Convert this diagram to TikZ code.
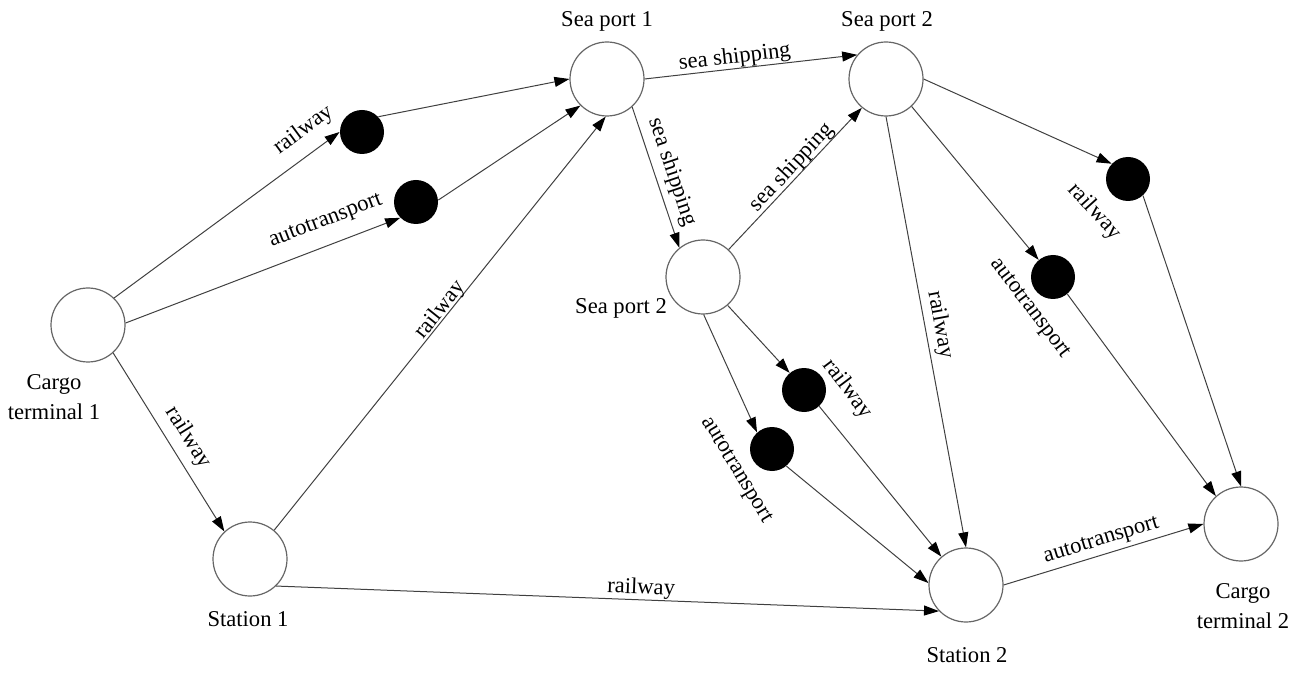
\documentclass[tikz,border=0pt]{standalone}
\usepackage{fontspec}
\setmainfont{Liberation Serif}
\usetikzlibrary{arrows.meta}

\begin{document}
\begin{tikzpicture}[
  x=0.5pt, y=-0.5pt,
  port/.style={circle, draw=black!60, fill=white, line width=0.6pt,
               minimum size=37pt, inner sep=0pt},
  hub/.style={circle, fill=black, minimum size=22pt, inner sep=0pt},
  arr/.style={-{Triangle[length=7.5pt, width=5pt, color=black]},
              draw=black!75, line width=0.5pt},
  lbl/.style={font=\fontsize{11.3}{15}\selectfont, sloped, anchor=center,
              inner sep=0pt, yshift=#1},
  lbl/.default=6.5pt,
  tag/.style={font=\fontsize{11.3}{15}\selectfont, inner sep=0pt},
  plabel/.style={font=\fontsize{11.3}{15}\selectfont, align=center, inner sep=0pt}
]
  \useasboundingbox (0,0) rectangle (1305,673);

  % Nodes
  \node[port] (ct1)  at (88,325)   {};
  \node[port] (st1)  at (250,559)  {};
  \node[port] (sp1)  at (607,79)   {};
  \node[port] (sp2a) at (886,79)   {};
  \node[port] (sp2b) at (703,277)  {};
  \node[port] (st2)  at (966,585)  {};
  \node[port] (ct2)  at (1241,524) {};

  % Transfer points
  \node[hub] (r1) at (362,132)  {};
  \node[hub] (a1) at (416,202)  {};
  \node[hub] (r2) at (1128,179) {};
  \node[hub] (a2) at (1053,277) {};
  \node[hub] (r3) at (804,390)  {};
  \node[hub] (a3) at (772,449)  {};

  % Names
  \node[plabel, anchor=base] (sp1name)  at (607,27)  {Sea port 1};
  \node[plabel, anchor=base] (sp2aname) at (887,27)  {Sea port 2};
  \node[plabel, anchor=base] (sp2bname) at (621,314) {Sea port 2};
  \node[plabel]              (ct1name)  at (54,397)  {Cargo\\terminal 1};
  \node[plabel, anchor=base] (st1name)  at (248,626) {Station 1};
  \node[plabel, anchor=base] (st2name)  at (967,662) {Station 2};
  \node[plabel]              (ct2name)  at (1243,606) {Cargo\\terminal 2};

  % Arrows
  \draw[arr] (ct1.46)   -- node[lbl=11.5pt, pos=0.9]  {railway} (r1.180);
  \draw[arr] (ct1.3)    -- node[lbl=11.5pt, pos=0.76] {autotransport} (a1.-135);
  \draw[arr] (r1.43)    -- (sp1.180);
  \draw[arr] (a1.5)     -- (sp1.-135);
  \draw[arr] (ct1.-48)  -- node[lbl=9.5pt, pos=0.53]  {railway} (st1.133);
  \draw[arr] (st1.50)   -- node[lbl=4pt, pos=0.52]    {railway} (sp1.-92);
  \draw[arr] (st1.-46)  -- node[lbl=5.8pt, pos=0.55]  {railway} (st2.-136);
  \draw[arr] (sp1.0)    -- node[lbl=5.5pt, pos=0.43]  {sea shipping} (sp2a.140);
  \draw[arr] (sp1.-48)  -- node[lbl=8.5pt, pos=0.5]   {sea shipping} (sp2b.129);
  \draw[arr] (sp2b.47)  -- node[lbl=5pt, pos=0.53]    {sea shipping} (sp2a.-130);
  \draw[arr] (sp2a.0)   -- node[tag, pos=1, shift={(-17,48)}, rotate=-48] {railway} (r2.137);
  \draw[arr] (sp2a.-47) -- node[tag, pos=1, shift={(-9,49)}, rotate=-53] {autotransport} (a2.130);
  \draw[arr] (sp2a.-90) -- node[lbl=7.5pt, pos=0.49]  {railway} (st2.90);
  \draw[arr] (r2.-48)   -- (ct2.90);
  \draw[arr] (a2.-50)   -- (ct2.132);
  \draw[arr] (st2.0)    -- node[lbl=6.7pt, pos=0.51]  {autotransport} (ct2.180);
  \draw[arr] (sp2b.-49) -- node[tag, pos=1, shift={(58,16)}, rotate=-53] {railway} (r3.130);
  \draw[arr] (sp2b.-89) -- node[tag, pos=1, shift={(-21,38)}, rotate=-59] {autotransport} (a3.132);
  \draw[arr] (r3.-47)   -- (st2.131);
  \draw[arr] (a3.-50)   -- (st2.177);
\end{tikzpicture}
\end{document}
